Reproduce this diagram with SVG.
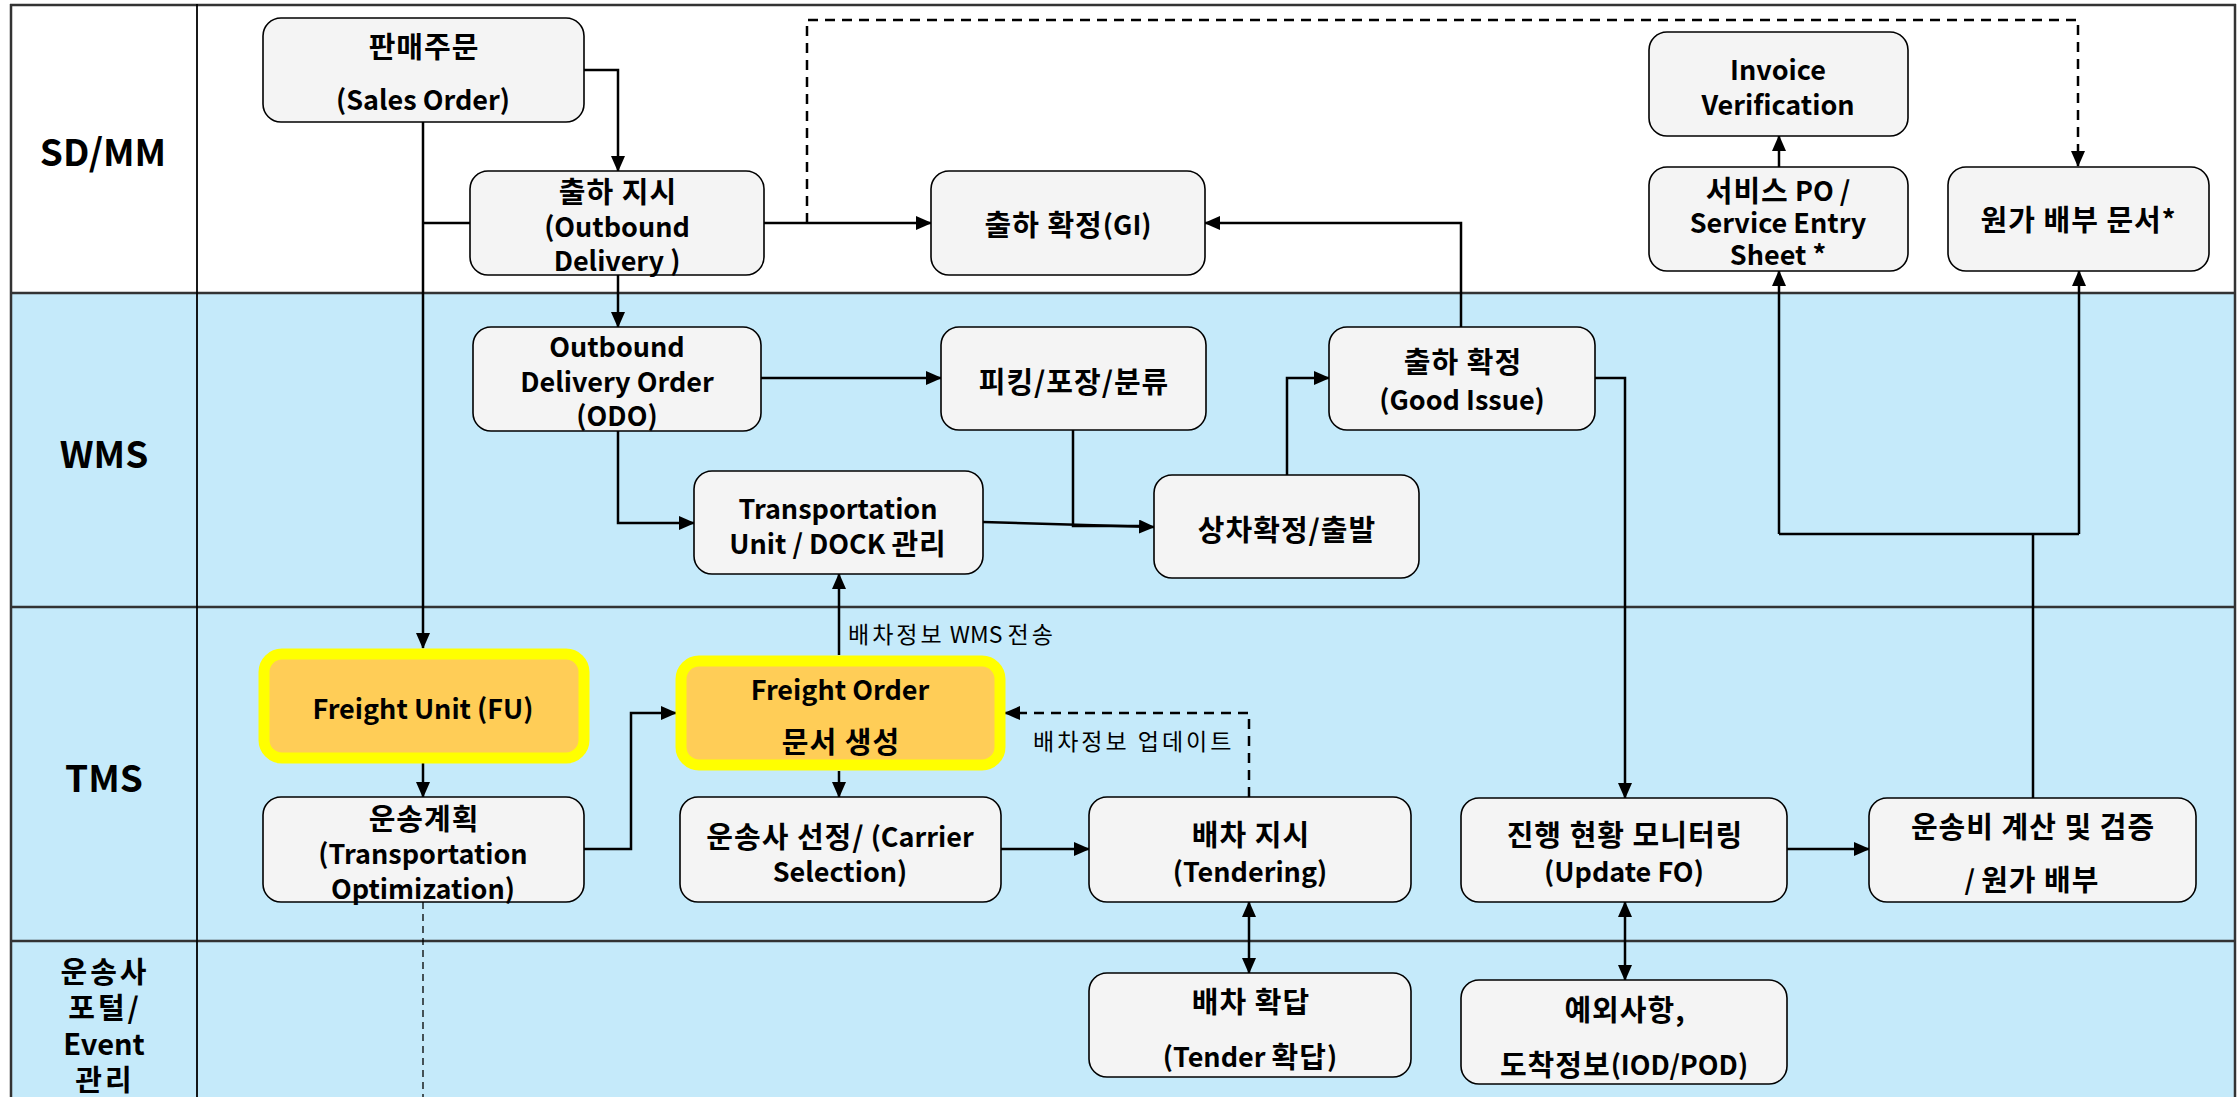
<svg xmlns="http://www.w3.org/2000/svg" width="2237" height="1097" viewBox="0 0 2237 1097">
<defs>
<marker id="ah" markerUnits="userSpaceOnUse" markerWidth="16" markerHeight="14" refX="15" refY="7" orient="auto-start-reverse">
<path d="M0,0 L16,7 L0,14 z" fill="#000"/>
</marker>
<style>
.lane{stroke:none}
.lline{stroke:#333;stroke-width:2.5;fill:none}
.node{fill:#F4F4F4;stroke:#000;stroke-width:1.6}
.hl{fill:#FFCD57;stroke:#FFFF00;stroke-width:11}
.t{font-family:"Noto Sans CJK KR","Malgun Gothic",sans-serif;font-weight:bold;font-size:27px;fill:#000;text-anchor:middle;dominant-baseline:central}
.k{font-size:29px;letter-spacing:1px}
.lab{font-family:"Noto Sans CJK KR",sans-serif;font-weight:bold;font-size:37px;fill:#000;text-anchor:middle;dominant-baseline:central}
.lab2{font-family:"Noto Sans CJK KR",sans-serif;font-weight:bold;font-size:29px;fill:#000;text-anchor:middle;dominant-baseline:central}
.lk{letter-spacing:3px}
.note{font-family:"Noto Sans CJK KR",sans-serif;font-size:23px;fill:#000;dominant-baseline:central}
.nk{letter-spacing:3px}
.c{fill:none;stroke:#000;stroke-width:2.5}
.ca{fill:none;stroke:#000;stroke-width:2.5;marker-end:url(#ah)}
.cd{fill:none;stroke:#000;stroke-width:2.5;stroke-dasharray:10 7;marker-end:url(#ah)}
.cb{fill:none;stroke:#000;stroke-width:2.5;marker-start:url(#ah);marker-end:url(#ah)}
</style>
</defs>

<g id="lanes">
<rect class="lane" x="10" y="4" width="2226" height="289" fill="#FFFFFF"/>
<rect class="lane" x="10" y="293" width="2226" height="314" fill="#C5EAFA"/>
<rect class="lane" x="10" y="607" width="2226" height="334" fill="#C5EAFA"/>
<rect class="lane" x="10" y="941" width="2226" height="160" fill="#C5EAFA"/>
<line class="lline" x1="10" y1="5" x2="2236" y2="5" stroke="#555"/>
<line class="lline" x1="10" y1="293" x2="2236" y2="293"/>
<line class="lline" x1="10" y1="607" x2="2236" y2="607"/>
<line class="lline" x1="10" y1="941" x2="2236" y2="941"/>
<line class="lline" x1="11" y1="4" x2="11" y2="1097" stroke="#000"/>
<line class="lline" x1="2235" y1="4" x2="2235" y2="1097" stroke-width="1.5"/>
<line x1="197" y1="4" x2="197" y2="1097" stroke="#000" stroke-width="1.8"/>
<text class="lab" x="103" y="150">SD/MM</text>
<text class="lab" x="104" y="452">WMS</text>
<text class="lab" x="104" y="776">TMS</text>
<text class="lab2"><tspan class="lk" x="105" y="970">운송사</tspan><tspan class="lk" x="105" y="1006">포털/</tspan><tspan x="104" y="1042">Event</tspan><tspan class="lk" x="105" y="1078">관리</tspan></text>
</g>

<g id="connectors">
<path class="ca" d="M584,70 H618 V171"/>
<path class="ca" d="M423,122 V648"/>
<path class="c" d="M423,223 H470"/>
<path class="ca" d="M764,223 H931"/>
<path class="cd" d="M807,223 V20 H2078 V166"/>
<path class="ca" d="M618,275 V327"/>
<path class="ca" d="M761,378 H941"/>
<path class="ca" d="M618,431 V523 H694"/>
<path class="ca" d="M983,522 L1154,527"/>
<path class="c" d="M1073,430 V526 H1140"/>
<path class="ca" d="M1287,475 V378 H1329"/>
<path class="ca" d="M1461,327 V223 H1205"/>
<path class="ca" d="M1595,378 H1625 V798"/>
<path class="ca" d="M839,655 V574"/>
<path class="ca" d="M423,763 V797"/>
<path class="ca" d="M584,849 H631 V713 H676"/>
<path class="ca" d="M839,771 V797"/>
<path class="ca" d="M1001,849 H1089"/>
<path class="cd" d="M1249,797 V713 H1005"/>
<path class="cb" d="M1249,902 V973"/>
<path class="cb" d="M1625,902 V980"/>
<path class="ca" d="M1787,849 H1869"/>
<path class="c" d="M2033,798 V534"/>
<path class="c" d="M1779,534 H2079"/>
<path class="ca" d="M1779,534 V271"/>
<path class="ca" d="M2079,534 V271"/>
<path class="ca" d="M1779,167 V136"/>
<path d="M423,902 V1097" fill="none" stroke="#000" stroke-width="1.3" stroke-dasharray="7 5"/>
<text class="note" x="848" y="633"><tspan class="nk">배차정보</tspan> WMS <tspan class="nk">전송</tspan></text>
<text class="note nk" x="1033" y="740">배차정보 업데이트</text>
</g>

<g id="sales-order">
<rect class="node" x="263" y="18" width="321" height="104" rx="18"/>
<text class="t"><tspan class="k" x="424" y="45">판매주문</tspan><tspan x="423" y="98">(Sales Order)</tspan></text>
</g>
<g id="outbound-delivery">
<rect class="node" x="470" y="171" width="294" height="104" rx="18"/>
<text class="t"><tspan class="k" x="618" y="190">출하 지시</tspan><tspan x="617" y="225">(Outbound</tspan><tspan x="617" y="259">Delivery )</tspan></text>
</g>
<g id="gi">
<rect class="node" x="931" y="171" width="274" height="104" rx="18"/>
<text class="t" x="1068" y="223"><tspan class="k">출하 확정</tspan>(GI)</text>
</g>
<g id="invoice">
<rect class="node" x="1649" y="32" width="259" height="104" rx="18"/>
<text class="t"><tspan x="1778" y="68">Invoice</tspan><tspan x="1778" y="103">Verification</tspan></text>
</g>
<g id="service-po">
<rect class="node" x="1649" y="167" width="259" height="104" rx="18"/>
<text class="t"><tspan x="1778" y="189"><tspan class="k">서비스</tspan> PO /</tspan><tspan x="1778" y="221">Service Entry</tspan><tspan x="1778" y="253">Sheet *</tspan></text>
</g>
<g id="cost-doc">
<rect class="node" x="1948" y="167" width="261" height="104" rx="18"/>
<text class="t" x="2078" y="218"><tspan class="k">원가 배부 문서</tspan>*</text>
</g>
<g id="odo">
<rect class="node" x="473" y="327" width="288" height="104" rx="18"/>
<text class="t"><tspan x="617" y="345">Outbound</tspan><tspan x="617" y="380">Delivery Order</tspan><tspan x="617" y="414">(ODO)</tspan></text>
</g>
<g id="picking">
<rect class="node" x="941" y="327" width="265" height="103" rx="18"/>
<text class="t k" x="1074" y="380">피킹/포장/분류</text>
</g>
<g id="good-issue">
<rect class="node" x="1329" y="327" width="266" height="103" rx="18"/>
<text class="t"><tspan class="k" x="1463" y="360">출하 확정</tspan><tspan x="1462" y="398">(Good Issue)</tspan></text>
</g>
<g id="tu-dock">
<rect class="node" x="694" y="471" width="289" height="103" rx="18"/>
<text class="t"><tspan x="838" y="507">Transportation</tspan><tspan x="838" y="542">Unit / DOCK <tspan class="k">관리</tspan></tspan></text>
</g>
<g id="loading">
<rect class="node" x="1154" y="475" width="265" height="103" rx="18"/>
<text class="t k" x="1287" y="528">상차확정/출발</text>
</g>
<g id="freight-unit">
<rect class="hl" x="264" y="654" width="320" height="104" rx="18"/>
<text class="t" x="423" y="707">Freight Unit (FU)</text>
</g>
<g id="freight-order">
<rect class="hl" x="681" y="661" width="319" height="104" rx="18"/>
<text class="t"><tspan x="840" y="688">Freight Order</tspan><tspan class="k" x="841" y="740">문서 생성</tspan></text>
</g>
<g id="transport-plan">
<rect class="node" x="263" y="797" width="321" height="105" rx="18"/>
<text class="t"><tspan class="k" x="424" y="817">운송계획</tspan><tspan x="423" y="852">(Transportation</tspan><tspan x="423" y="887">Optimization)</tspan></text>
</g>
<g id="carrier-selection">
<rect class="node" x="680" y="797" width="321" height="105" rx="18"/>
<text class="t"><tspan x="840" y="835"><tspan class="k">운송사 선정/</tspan> (Carrier</tspan><tspan x="840" y="870">Selection)</tspan></text>
</g>
<g id="tendering">
<rect class="node" x="1089" y="797" width="322" height="105" rx="18"/>
<text class="t"><tspan class="k" x="1251" y="833">배차 지시</tspan><tspan x="1250" y="870">(Tendering)</tspan></text>
</g>
<g id="monitoring">
<rect class="node" x="1461" y="798" width="326" height="104" rx="18"/>
<text class="t"><tspan class="k" x="1625" y="833">진행 현황 모니터링</tspan><tspan x="1624" y="870">(Update FO)</tspan></text>
</g>
<g id="freight-cost">
<rect class="node" x="1869" y="798" width="327" height="104" rx="18"/>
<text class="t"><tspan class="k" x="2033" y="825">운송비 계산 및 검증</tspan><tspan x="2032" y="878">/ <tspan class="k">원가 배부</tspan></tspan></text>
</g>
<g id="tender-response">
<rect class="node" x="1089" y="973" width="322" height="104" rx="18"/>
<text class="t"><tspan class="k" x="1251" y="1000">배차 확답</tspan><tspan x="1250" y="1055">(Tender <tspan class="k">확답</tspan>)</tspan></text>
</g>
<g id="exception">
<rect class="node" x="1461" y="980" width="326" height="104" rx="18"/>
<text class="t"><tspan class="k" x="1625" y="1008">예외사항,</tspan><tspan x="1624" y="1063"><tspan class="k">도착정보</tspan>(IOD/POD)</tspan></text>
</g>
</svg>
